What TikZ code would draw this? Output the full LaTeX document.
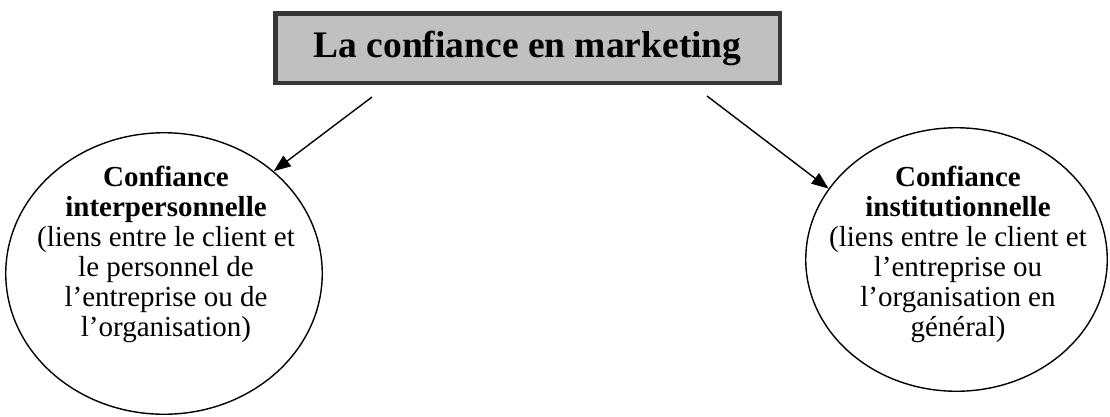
\documentclass[tikz,border=0pt]{standalone}
\usepackage{fontspec}
\setmainfont{Liberation Serif}
\usepackage{tikz}
\usetikzlibrary{shapes.geometric,arrows.meta,positioning}
\definecolor{boxfill}{HTML}{C0C0C0}
\definecolor{boxline}{HTML}{363636}

\begin{document}
\begin{tikzpicture}[x=1pt, y=-1pt,
  arr/.style={-{Triangle[length=17pt,width=13pt]}, line width=1.4pt},
  bulle/.style={ellipse, draw, line width=1.4pt, inner sep=0pt},
  texte/.style={align=center, inner sep=0pt, anchor=north,
                font=\fontsize{29}{30}\selectfont}]
  \useasboundingbox (0,0) rectangle (1110,416);
  % Title box
  \node[draw=boxline, line width=4.5pt, fill=boxfill, minimum width=504.5pt,
        minimum height=69.5pt, font=\fontsize{37.5}{40}\selectfont\bfseries]
        (titre) at (527.5,48) {La confiance en marketing};
  % Interpersonal trust
  \node[bulle, minimum width=316.5pt, minimum height=281.5pt] (interp) at (164,273.5) {};
  \node[texte] (interptxt) at (166,166) {\textbf{Confiance}\\\textbf{interpersonnelle}\\
    (liens entre le client et\\le personnel de\\l’entreprise ou de\\l’organisation)};
  % Institutional trust
  \node[bulle, minimum width=301.5pt, minimum height=263.5pt] (instit) at (956.5,259.5) {};
  \node[texte] (institxt) at (958,166) {\textbf{Confiance}\\\textbf{institutionnelle}\\
    (liens entre le client et\\l’entreprise ou\\l’organisation en\\général)};
  % Arrows
  \coordinate (dL) at (372,97);
  \coordinate (dR) at (707,96);
  \draw[arr] (dL) -- (interp.43);
  \draw[arr] (dR) -- (instit.151);
\end{tikzpicture}
\end{document}
